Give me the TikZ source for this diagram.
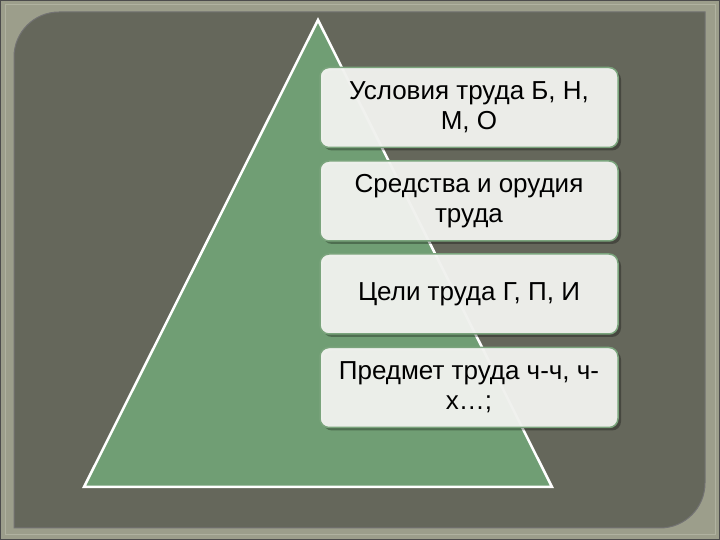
\documentclass[tikz,border=0pt]{standalone}
\usepackage{fontspec}
\setmainfont{Liberation Sans}
\usetikzlibrary{shadows}
\definecolor{framec}{RGB}{156,158,139}
\definecolor{framel}{RGB}{176,178,160}
\definecolor{bgdark}{RGB}{101,103,91}
\definecolor{trigreen}{RGB}{112,158,116}
\definecolor{boxfill}{RGB}{244,245,242}
\definecolor{boxline}{RGB}{122,164,124}
\tikzset{
  tbox/.style={draw=boxline, line width=1.5pt, fill=boxfill, fill opacity=0.95, text opacity=1,
    rounded corners=9pt, minimum width=298pt, minimum height=80pt, align=center,
    font=\fontsize{26}{30}\selectfont, text=black, inner sep=2pt,
    drop shadow={shadow xshift=3pt, shadow yshift=-3pt, opacity=0.3, fill=black}}
}
\begin{document}
\begin{tikzpicture}[x=1pt,y=1pt]
\useasboundingbox (0,0) rectangle (720,540);
\fill[framec] (0,0) rectangle (720,540);
\draw[black!70, line width=1pt] (0.5,0.5) rectangle (719.5,539.5);
\draw[framel, line width=1pt] (5,5) rectangle (715,535);
\fill[bgdark, draw=black!55, line width=1pt] (14,12) -- (14,483) arc(180:90:45) -- (705,528) -- (705,57) arc(0:-90:45) -- cycle;
\filldraw[fill=trigreen, draw=white, line width=2.5pt, line join=miter] (318,520) -- (84,53) -- (552,53) -- cycle;
\node[tbox] (b1) at (469,432.5) {\raisebox{-2pt}{Условия труда Б, Н,}\\\raisebox{-2pt}{М, О}};
\node[tbox] (b2) at (469,339) {\raisebox{-2pt}{Средства и орудия}\\\raisebox{-2pt}{труда}};
\node[tbox] (b3) at (469,246) {Цели труда Г, П, И};
\node[tbox] (b4) at (469,152.5) {\raisebox{-2pt}{Предмет труда ч-ч, ч-}\\\raisebox{-2pt}{х…;}};
\end{tikzpicture}
\end{document}
